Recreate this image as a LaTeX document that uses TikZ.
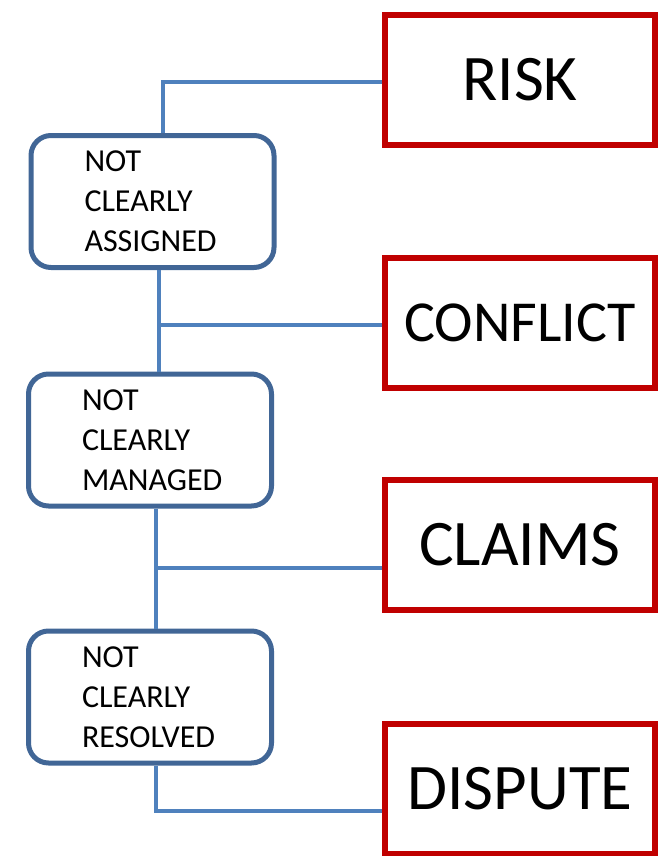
\documentclass[tikz,border=0pt]{standalone}
\usepackage{fontspec}
\setmainfont{Carlito}
\definecolor{riskred}{RGB}{192,0,0}
\definecolor{boxblue}{RGB}{65,102,150}
\definecolor{linkblue}{RGB}{79,129,189}
\begin{document}
\begin{tikzpicture}[x=1pt, y=1pt]
  \tikzstyle{outcome}=[rectangle, draw=riskred, line width=5.5pt, fill=white,
                       minimum width=270pt, minimum height=130pt, inner sep=0pt]
  \tikzstyle{cause}=[rectangle, rounded corners=20pt, draw=boxblue, line width=5pt,
                     fill=white, minimum width=243pt, minimum height=132pt,
                     text width=136pt, align=left, inner sep=0pt,
                     font={\fontsize{32}{40}\selectfont}]
  \tikzstyle{link}=[draw=linkblue, line width=3.5pt]

  \useasboundingbox (0,0) rectangle (657,-856);

  \node[outcome, font={\fontsize{65}{70}\selectfont}] (risk)     at (520, -80)  {RISK};
  \node[outcome, font={\fontsize{58}{64}\selectfont}] (conflict) at (520, -323) {CONFLICT};
  \node[outcome, font={\fontsize{65}{70}\selectfont}] (claims)   at (520, -545) {CLAIMS};
  \node[outcome, font={\fontsize{65}{70}\selectfont}] (dispute)  at (520, -789) {DISPUTE};

  \node[cause] (assigned) at (152.5, -201.5) {NOT\\CLEARLY\\ASSIGNED};
  \node[cause] (managed)  at (150,   -440)   {NOT\\CLEARLY\\MANAGED};
  \node[cause] (resolved) at (150,   -697)   {NOT\\CLEARLY\\RESOLVED};

  \coordinate (t1) at ([xshift=9pt]managed.north);
  \coordinate (t2) at ([xshift=6pt]resolved.north);

  \path[link] ([yshift=-2pt]risk.west) -| ([xshift=10.5pt]assigned.north);
  \path[link] ([xshift=6.5pt]assigned.south) -- (t1);
  \path[link] ([yshift=-2pt]conflict.west) -- ([yshift=-2pt]conflict.west -| t1);
  \path[link] ([xshift=6pt]managed.south) -- (t2);
  \path[link] ([yshift=-23pt]claims.west) -- ([yshift=-23pt]claims.west -| t2);
  \path[link] ([xshift=6pt]resolved.south) |- ([yshift=-22pt]dispute.west);
\end{tikzpicture}
\end{document}
